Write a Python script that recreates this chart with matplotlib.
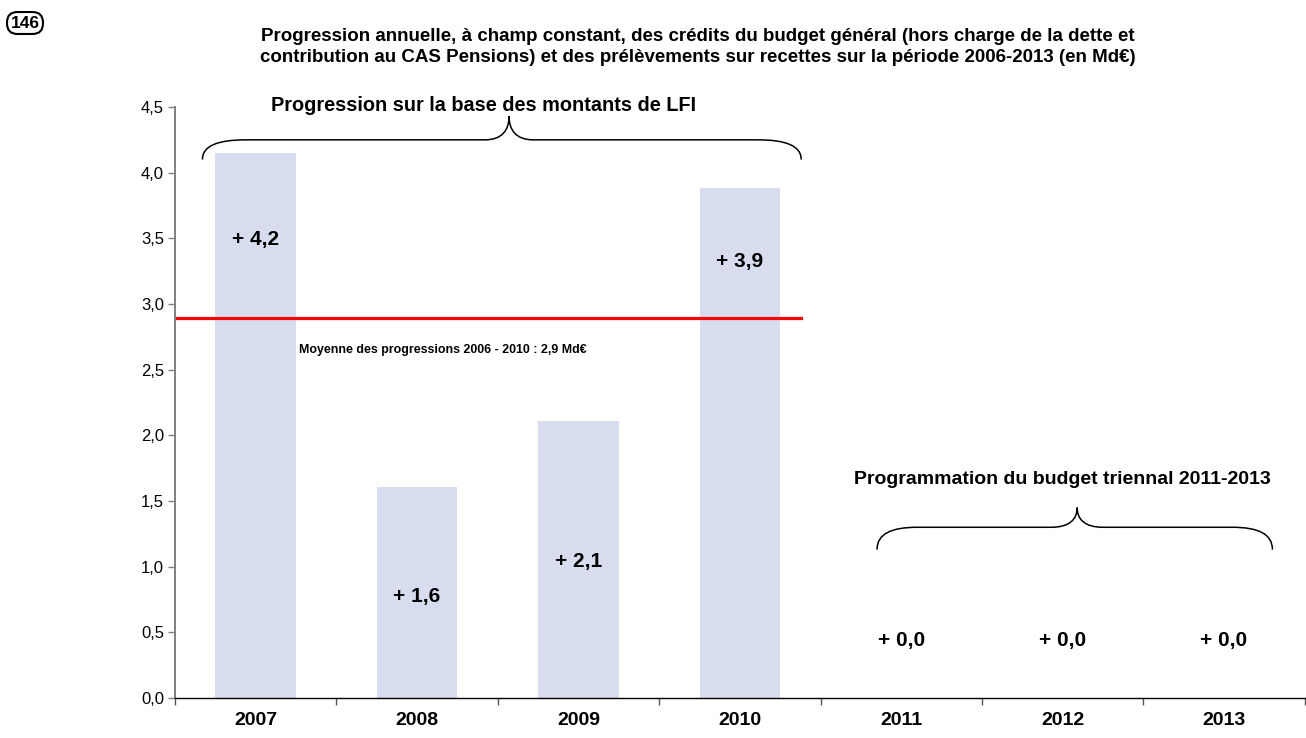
import matplotlib
matplotlib.use("Agg")
import matplotlib.pyplot as plt
from matplotlib.path import Path
from matplotlib.patches import PathPatch

plt.rcParams["font.family"] = ["Liberation Sans", "DejaVu Sans"]

years = ["2007", "2008", "2009", "2010", "2011", "2012", "2013"]
progression = [4.15, 1.61, 2.11, 3.88, 0.0, 0.0, 0.0]
value_labels = ["+ 4,2", "+ 1,6", "+ 2,1", "+ 3,9", "+ 0,0", "+ 0,0", "+ 0,0"]
moyenne = 2.89
yticks = [0.0, 0.5, 1.0, 1.5, 2.0, 2.5, 3.0, 3.5, 4.0, 4.5]

title = ("Progression annuelle, à champ constant, des crédits du budget général (hors charge de la dette et\n"
         "contribution au CAS Pensions) et des prélèvements sur recettes sur la période 2006-2013 (en Md€)")


def brace(ax, x0, x1, xc, y_end, y_arm, y_tip, r, rt):
  verts = [
    (x0, y_end),
    (x0, y_end + 0.7 * (y_arm - y_end)), (x0 + 0.35 * r, y_arm), (x0 + r, y_arm),
    (xc - rt, y_arm),
    (xc - 0.3 * rt, y_arm), (xc, y_arm + 0.4 * (y_tip - y_arm)), (xc, y_tip),
    (xc, y_arm + 0.4 * (y_tip - y_arm)), (xc + 0.3 * rt, y_arm), (xc + rt, y_arm),
    (x1 - r, y_arm),
    (x1 - 0.35 * r, y_arm), (x1, y_end + 0.7 * (y_arm - y_end)), (x1, y_end),
  ]
  codes = [Path.MOVETO,
           Path.CURVE4, Path.CURVE4, Path.CURVE4,
           Path.LINETO,
           Path.CURVE4, Path.CURVE4, Path.CURVE4,
           Path.CURVE4, Path.CURVE4, Path.CURVE4,
           Path.LINETO,
           Path.CURVE4, Path.CURVE4, Path.CURVE4]
  ax.add_patch(PathPatch(Path(verts, codes), fill=False, lw=1.1, color="black", clip_on=False))


fig = plt.figure(figsize=(13.06, 7.38), dpi=100)
ax = fig.add_axes([0.134, 0.0542, 0.865, 0.8008])

x = list(range(len(years)))
ax.bar(x, progression, width=0.5, color="#D7DDEF", zorder=1)

label_y = [3.49, 0.77, 1.04, 3.32, 0.44, 0.44, 0.44]
for xi, lab, ly in zip(x, value_labels, label_y):
  ax.text(xi, ly, lab, ha="center", va="center", fontsize=15, fontweight="bold", zorder=3)

ax.plot([-0.5, 3.38], [moyenne, moyenne], color="#FF0000", lw=2.3, zorder=2)
ax.text(0.27, 2.65, "Moyenne des progressions 2006 - 2010 : 2,9 Md€", ha="left", va="center",
        fontsize=8.9, fontweight="bold")

brace(ax, -0.33, 3.38, 1.57, 4.10, 4.25, 4.43, 0.27, 0.15)
ax.text(1.41, 4.51, "Progression sur la base des montants de LFI", ha="center", va="center",
        fontsize=14.3, fontweight="bold")

brace(ax, 3.85, 6.30, 5.09, 1.13, 1.30, 1.45, 0.25, 0.16)
ax.text(5.00, 1.66, "Programmation du budget triennal 2011-2013", ha="center", va="center",
        fontsize=14, fontweight="bold")

ax.set_xlim(-0.5, 6.5)
ax.set_ylim(0, 4.5)
ax.set_yticks(yticks)
ax.set_yticklabels([f"{v:.1f}".replace(".", ",") for v in yticks], fontsize=12)
ax.set_xticks(x)
ax.set_xticklabels(years, fontsize=14, fontweight="bold")
ax.set_xticks([i - 0.5 for i in range(len(years) + 1)], minor=True)
ax.tick_params(axis="x", which="major", length=0, pad=10)
ax.tick_params(axis="x", which="minor", length=5, width=1, direction="out", color="#555555")
ax.tick_params(axis="y", length=5, width=1, direction="out", color="#808080", pad=3)

for s in ["top", "right"]:
  ax.spines[s].set_visible(False)
ax.spines["left"].set_color("#808080")
ax.spines["left"].set_linewidth(1.4)
ax.spines["bottom"].set_color("black")
ax.spines["bottom"].set_linewidth(1.0)

fig.text(698 / 1306, 1 - 47 / 738, title, ha="center", va="center", fontsize=13.5, fontweight="bold",
         linespacing=1.3)
fig.text(25 / 1306, 1 - 23 / 738, "146", ha="center", va="center", fontsize=12.5, fontweight="bold",
         bbox=dict(boxstyle="round,pad=0.2,rounding_size=0.6", fc="white", ec="black", lw=1.5))

fig.savefig("out.png", dpi=100)
